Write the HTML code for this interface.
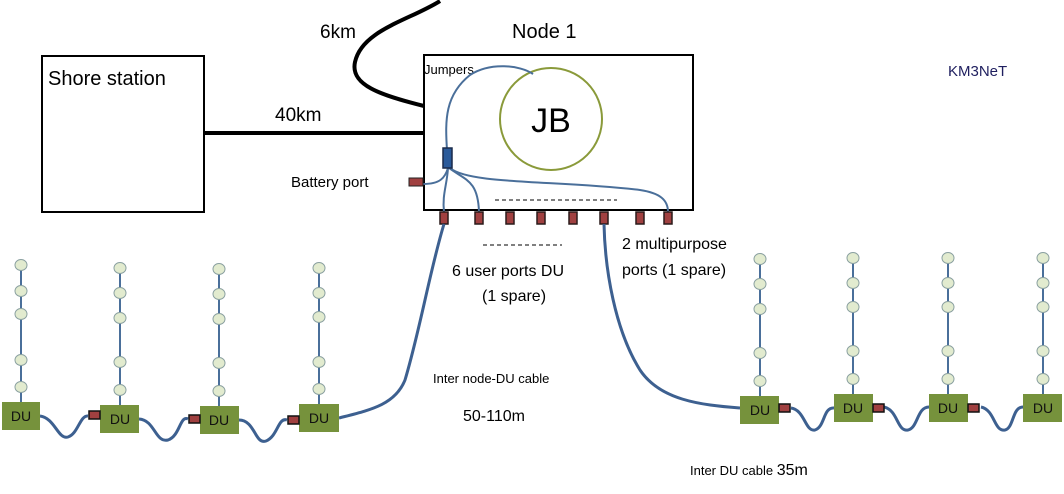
<!DOCTYPE html>
<html><head><style>
html,body{margin:0;padding:0;background:#fff;}
svg{display:block;font-family:"Liberation Sans",sans-serif;}
</style></head><body>
<svg width="1064" height="494" viewBox="0 0 1064 494" xmlns="http://www.w3.org/2000/svg">
<rect x="42" y="56" width="162" height="156" fill="#fff" stroke="#000" stroke-width="2"/>
<text x="48" y="85" font-size="20">Shore station</text>
<rect x="424" y="55" width="269" height="155" fill="#fff" stroke="#000" stroke-width="2"/>
<text x="512" y="38" font-size="20">Node 1</text>
<text x="948" y="76" font-size="15" fill="#1f1f5f">KM3NeT</text>
<line x1="204" y1="133" x2="424" y2="133" stroke="#000" stroke-width="4"/>
<text x="275" y="121" font-size="19">40km</text>
<path d="M424,106 C380,95 350,85 355,62 C362,30 410,20 440,1" fill="none" stroke="#000" stroke-width="4"/>
<text x="320" y="38" font-size="19">6km</text>
<circle cx="551" cy="119" r="51" fill="#fff" stroke="#8a9a3a" stroke-width="2"/>
<text x="551" y="132" font-size="34" text-anchor="middle">JB</text>
<text x="424" y="74" font-size="13">Jumpers</text>
<g fill="none" stroke="#4a6f9a" stroke-width="2">
<path d="M447,150 C445,120 445,95 470,75 C490,62 520,65 533,74"/>
<path d="M423,184 C440,184 445,178 448,168"/>
<path d="M448,168 C447,185 442,195 444,212"/>
<path d="M449,168 C465,180 478,180 479,212"/>
<path d="M450,168 C470,185 560,180 640,190 C660,193 668,200 668,212"/>
</g>
<rect x="443" y="148" width="9" height="20" fill="#2a5a9a" stroke="#1a2a4a" stroke-width="1.5"/>
<rect x="409" y="178" width="14" height="8" fill="#a04040" stroke="#222" stroke-width="1"/>
<text x="291" y="187" font-size="15">Battery port</text>
<g fill="#a04040" stroke="#2a1a1a" stroke-width="1.5">
<rect x="440" y="212" width="8" height="12"/>
<rect x="475" y="212" width="8" height="12"/>
<rect x="506" y="212" width="8" height="12"/>
<rect x="537" y="212" width="8" height="12"/>
<rect x="569" y="212" width="8" height="12"/>
<rect x="600" y="212" width="8" height="12"/>
<rect x="636" y="212" width="8" height="12"/>
<rect x="664" y="212" width="8" height="12"/>
</g>
<line x1="495" y1="200" x2="617" y2="200" stroke="#000" stroke-width="1" stroke-dasharray="4,3"/>
<line x1="483" y1="245" x2="562" y2="245" stroke="#000" stroke-width="1" stroke-dasharray="4,3"/>
<text x="452" y="276" font-size="16">6 user ports DU</text>
<text x="482" y="301" font-size="16">(1 spare)</text>
<text x="622" y="249" font-size="16">2 multipurpose</text>
<text x="622" y="275" font-size="16">ports (1 spare)</text>
<text x="433" y="383" font-size="13">Inter node-DU cable</text>
<text x="463" y="421" font-size="16">50-110m</text>
<text x="690" y="475" font-size="13">Inter DU cable <tspan font-size="16">35m</tspan></text>
<g fill="none" stroke="#3d6090" stroke-width="3">
<path d="M444,224 C430,270 420,330 405,380 C395,405 370,410 339,418"/>
<path d="M604,224 C605,270 615,330 640,370 C660,400 700,405 740,408"/>
<path d="M40,416 C55,418 58,440 68,437 C78,434 80,415 88,416"/>
<path d="M139,419 C155,420 155,443 168,440 C180,436 180,415 188,419"/>
<path d="M239,420 C255,420 255,445 266,441 C278,436 278,417 287,420"/>
<path d="M791,408 C805,410 805,432 815,430 C825,427 823,407 834,408"/>
<path d="M884,407 C898,410 897,432 908,430 C918,428 917,407 929,407"/>
<path d="M981,407 C995,410 994,432 1005,430 C1014,428 1012,407 1023,407"/>
</g>
<g stroke="#4a6f9a" stroke-width="2">
<line x1="21" y1="265" x2="21" y2="402"/>
<line x1="120" y1="268" x2="120" y2="405"/>
<line x1="219" y1="269" x2="219" y2="406"/>
<line x1="319" y1="268" x2="319" y2="404"/>
<line x1="760" y1="258" x2="760" y2="396"/>
<line x1="853" y1="258" x2="853" y2="394"/>
<line x1="948" y1="258" x2="948" y2="394"/>
<line x1="1043" y1="258" x2="1043" y2="394"/>
</g>
<g fill="#e2ebcf" stroke="#8aa0a0" stroke-width="1">
<ellipse cx="21" cy="265" rx="6" ry="5.5"/><ellipse cx="21" cy="291" rx="6" ry="5.5"/><ellipse cx="21" cy="314" rx="6" ry="5.5"/><ellipse cx="21" cy="360" rx="6" ry="5.5"/><ellipse cx="21" cy="387" rx="6" ry="5.5"/>
<ellipse cx="120" cy="268" rx="6" ry="5.5"/><ellipse cx="120" cy="293" rx="6" ry="5.5"/><ellipse cx="120" cy="318" rx="6" ry="5.5"/><ellipse cx="120" cy="362" rx="6" ry="5.5"/><ellipse cx="120" cy="390" rx="6" ry="5.5"/>
<ellipse cx="219" cy="269" rx="6" ry="5.5"/><ellipse cx="219" cy="294" rx="6" ry="5.5"/><ellipse cx="219" cy="319" rx="6" ry="5.5"/><ellipse cx="219" cy="363" rx="6" ry="5.5"/><ellipse cx="219" cy="391" rx="6" ry="5.5"/>
<ellipse cx="319" cy="268" rx="6" ry="5.5"/><ellipse cx="319" cy="293" rx="6" ry="5.5"/><ellipse cx="319" cy="317" rx="6" ry="5.5"/><ellipse cx="319" cy="362" rx="6" ry="5.5"/><ellipse cx="319" cy="389" rx="6" ry="5.5"/>
<ellipse cx="760" cy="259" rx="6" ry="5.5"/><ellipse cx="760" cy="284" rx="6" ry="5.5"/><ellipse cx="760" cy="309" rx="6" ry="5.5"/><ellipse cx="760" cy="353" rx="6" ry="5.5"/><ellipse cx="760" cy="381" rx="6" ry="5.5"/>
<ellipse cx="853" cy="258" rx="6" ry="5.5"/><ellipse cx="853" cy="283" rx="6" ry="5.5"/><ellipse cx="853" cy="307" rx="6" ry="5.5"/><ellipse cx="853" cy="351" rx="6" ry="5.5"/><ellipse cx="853" cy="379" rx="6" ry="5.5"/>
<ellipse cx="948" cy="258" rx="6" ry="5.5"/><ellipse cx="948" cy="283" rx="6" ry="5.5"/><ellipse cx="948" cy="307" rx="6" ry="5.5"/><ellipse cx="948" cy="351" rx="6" ry="5.5"/><ellipse cx="948" cy="379" rx="6" ry="5.5"/>
<ellipse cx="1043" cy="258" rx="6" ry="5.5"/><ellipse cx="1043" cy="283" rx="6" ry="5.5"/><ellipse cx="1043" cy="307" rx="6" ry="5.5"/><ellipse cx="1043" cy="351" rx="6" ry="5.5"/><ellipse cx="1043" cy="379" rx="6" ry="5.5"/>
</g>
<g fill="#76923c">
<rect x="2" y="402" width="38" height="28"/>
<rect x="100" y="405" width="39" height="28"/>
<rect x="200" y="406" width="39" height="28"/>
<rect x="299" y="404" width="40" height="28"/>
<rect x="740" y="396" width="39" height="28"/>
<rect x="834" y="394" width="39" height="28"/>
<rect x="929" y="394" width="39" height="28"/>
<rect x="1023" y="394" width="39" height="28"/>
</g>
<g font-size="14" text-anchor="middle" fill="#111">
<text x="21" y="421">DU</text><text x="120" y="424">DU</text><text x="219" y="425">DU</text><text x="319" y="423">DU</text>
<text x="760" y="415">DU</text><text x="853" y="413">DU</text><text x="948" y="413">DU</text><text x="1043" y="413">DU</text>
</g>
<g fill="#a04040" stroke="#111" stroke-width="1.5">
<rect x="89" y="411" width="11" height="8"/>
<rect x="189" y="415" width="11" height="8"/>
<rect x="288" y="416" width="11" height="8"/>
<rect x="779" y="404" width="11" height="8"/>
<rect x="873" y="404" width="11" height="8"/>
<rect x="968" y="404" width="11" height="8"/>
</g>
</svg>
</body></html>
